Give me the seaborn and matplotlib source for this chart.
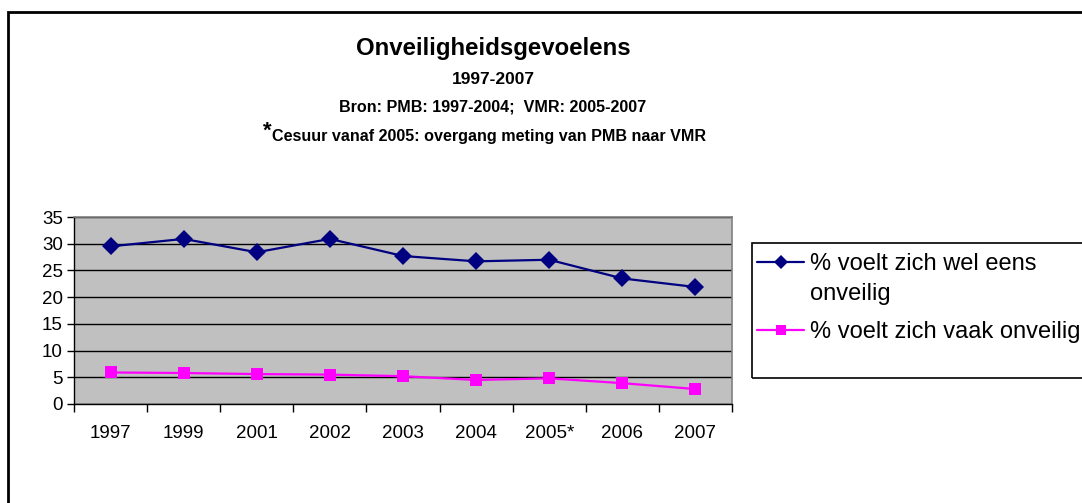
import matplotlib
matplotlib.use("Agg")
import matplotlib.pyplot as plt
from matplotlib.patches import Rectangle
from matplotlib.lines import Line2D
from matplotlib.ticker import FixedLocator
import seaborn as sns
import pandas as pd
import numpy as np

# data
jaren = ['1997', '1999', '2001', '2002', '2003', '2004', '2005*', '2006', '2007']
wel_eens = [29.5, 30.9, 28.4, 30.9, 27.7, 26.7, 27.0, 23.5, 21.9]
vaak = [5.9, 5.8, 5.6, 5.5, 5.2, 4.5, 4.8, 3.9, 2.8]
label_wel = '% voelt zich wel eens'
label_wel_2 = 'onveilig'
label_vaak = '% voelt zich vaak onveilig'

df = pd.DataFrame({
    'jaar': jaren * 2,
    'pct': wel_eens + vaak,
    'reeks': [label_wel] * len(jaren) + [label_vaak] * len(jaren),
})

sns.set_theme(style='white', rc={'text.color': 'black', 'xtick.color': 'black',
                                 'ytick.color': 'black', 'axes.labelcolor': 'black'})
plt.rcParams['font.family'] = ['Liberation Sans', 'DejaVu Sans']

fig = plt.figure(figsize=(10.82, 5.03), dpi=100)
ax = fig.add_axes([74 / 1082, 1 - 404 / 503, (732 - 74) / 1082, (404 - 217) / 503])

sns.lineplot(data=df, x='jaar', y='pct', hue='reeks', style='reeks',
             palette={label_wel: '#000080', label_vaak: '#FF00FF'},
             markers={label_wel: 'D', label_vaak: 's'}, dashes=False,
             markersize=9, linewidth=1.6, markeredgewidth=0,
             sort=False, ax=ax)

ax.set_facecolor('#C0C0C0')
ax.set_xlim(-0.5, len(jaren) - 0.5)
ax.set_ylim(0, 35)
ax.set_yticks(range(0, 36, 5))
ax.yaxis.grid(True, color='black', linewidth=1)
ax.xaxis.grid(False)
ax.set_axisbelow(True)
for side in ['top', 'right']:
    ax.spines[side].set_color('#808080')
    ax.spines[side].set_linewidth(1.2)
for side in ['left', 'bottom']:
    ax.spines[side].set_color('black')
    ax.spines[side].set_linewidth(1)
ax.xaxis.set_minor_locator(FixedLocator(np.arange(-0.5, len(jaren), 1.0)))
ax.tick_params(axis='x', which='major', length=0, pad=15, labelsize=13.5)
ax.tick_params(axis='x', which='minor', length=6, width=1, color='black', direction='out', bottom=True)
ax.tick_params(axis='y', length=5, width=1, color='black', direction='out', left=True, pad=3, labelsize=13.5)
ax.set_xlabel('')
ax.set_ylabel('')

# legend in two parts so the spacing matches the original; the handle sits
# next to the first line of the first label, the box runs off the right edge
handles, labels = ax.get_legend_handles_labels()
blank = Line2D([], [], linestyle='none', marker='')
leg_opts = dict(loc='upper left', bbox_transform=fig.transFigure, fontsize=17,
                frameon=False, handlelength=2.0, borderpad=0, labelspacing=0.32,
                borderaxespad=0, handletextpad=0.25)
leg1 = ax.legend([handles[0], blank], [label_wel, label_wel_2],
                 bbox_to_anchor=(757 / 1082, 1 - 253 / 503), **leg_opts)
ax.add_artist(leg1)
leg2 = ax.legend([handles[1]], [label_vaak],
                 bbox_to_anchor=(757 / 1082, 1 - 321 / 503), **leg_opts)
for leg in (leg1, leg2):
    for h in leg.legend_handles:
        h.set_markersize(7)
fig.patches.append(Rectangle((752 / 1082, 1 - 378 / 503), 0.4, (378 - 243) / 503,
                             transform=fig.transFigure, fill=False,
                             edgecolor='black', linewidth=1.2))

# titles
cx = 493 / 1082
fig.text(cx, 1 - 48 / 503, 'Onveiligheidsgevoelens', ha='center', va='center',
         fontsize=17.3, fontweight='bold')
fig.text(cx, 1 - 80 / 503, '1997-2007', ha='center', va='center',
         fontsize=12.5, fontweight='bold')
fig.text(cx, 1 - 107 / 503, 'Bron: PMB: 1997-2004;  VMR: 2005-2007', ha='center', va='center',
         fontsize=11.6, fontweight='bold')
fig.text(263 / 1082, 1 - 131 / 503, '*', ha='left', va='center',
         fontsize=16, fontweight='bold')
fig.text(272 / 1082, 1 - 136 / 503, 'Cesuur vanaf 2005: overgang meting van PMB naar VMR',
         ha='left', va='center', fontsize=11.6, fontweight='bold')

# outer chart frame
fig.patches.append(Rectangle((8 / 1082, -0.1), 1.2, 1 - 12 / 503 + 0.1,
                             transform=fig.transFigure, fill=False,
                             edgecolor='black', linewidth=2))

fig.savefig('out.png', dpi=100)
